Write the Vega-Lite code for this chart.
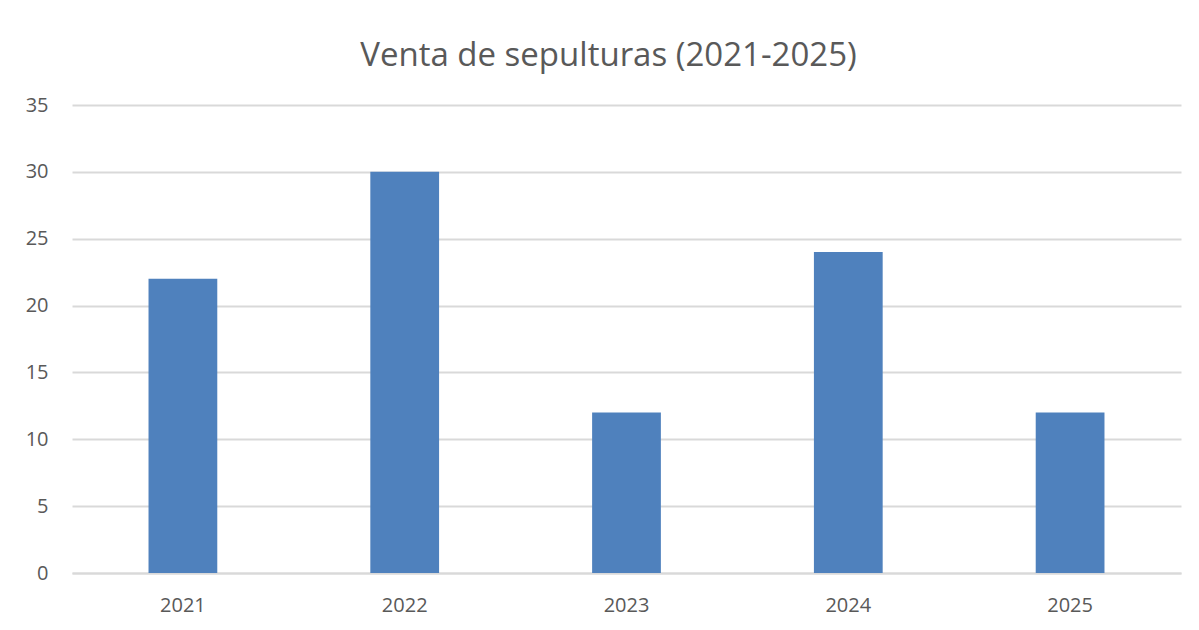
{
  "$schema": "https://vega.github.io/schema/vega-lite/v6.json",
  "autosize": "none",
  "width": 1109,
  "height": 468,
  "padding": {"left": 72, "top": 105, "right": 18, "bottom": 57},
  "background": "white",
  "title": {
    "text": "Venta de sepulturas (2021-2025)",
    "font": "Open Sans",
    "fontSize": 33,
    "fontWeight": "normal",
    "color": "#595959",
    "anchor": "middle",
    "dx": -18,
    "dy": 47,
    "offset": 36,
    "baseline": "bottom"
  },
  "data": {
    "values": [
      {"year": "2021", "ventas": 22},
      {"year": "2022", "ventas": 30},
      {"year": "2023", "ventas": 12},
      {"year": "2024", "ventas": 24},
      {"year": "2025", "ventas": 12}
    ]
  },
  "mark": {"type": "bar", "color": "#4F81BD"},
  "encoding": {
    "x": {
      "field": "year",
      "type": "nominal",
      "scale": {"paddingInner": 0.69, "paddingOuter": 0.345},
      "axis": {
        "title": null,
        "labelAngle": 0,
        "labelFont": "Open Sans",
        "labelFontSize": 20,
        "labelColor": "#595959",
        "labelPadding": 22,
        "ticks": false,
        "domainColor": "#D9D9D9",
        "domainWidth": 2
      }
    },
    "y": {
      "field": "ventas",
      "type": "quantitative",
      "scale": {"domain": [0, 35], "nice": false},
      "axis": {
        "title": null,
        "values": [0, 5, 10, 15, 20, 25, 30, 35],
        "labelFont": "Open Sans",
        "labelFontSize": 20,
        "labelColor": "#595959",
        "labelPadding": 24,
        "ticks": false,
        "domain": false,
        "gridColor": "#D9D9D9",
        "gridWidth": 2
      }
    }
  },
  "config": {"view": {"stroke": null}}
}
